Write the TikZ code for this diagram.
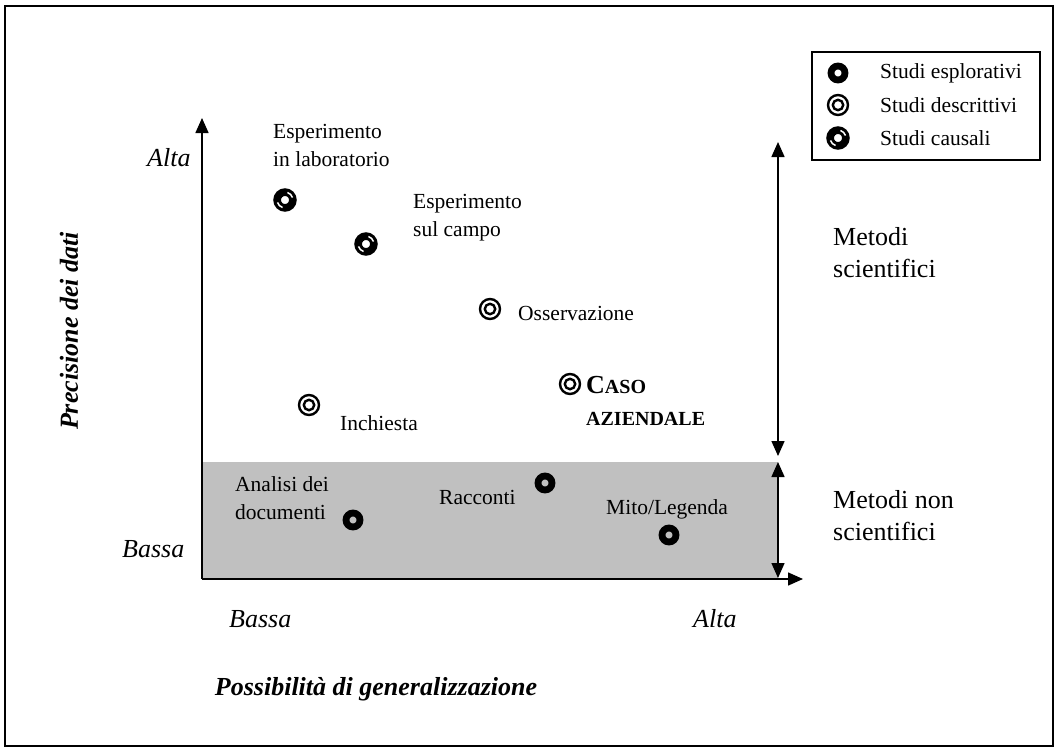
\documentclass[tikz,border=0pt]{standalone}
\usepackage{fontspec}
\setmainfont{Liberation Serif}
\usetikzlibrary{arrows.meta}
\definecolor{bandgray}{RGB}{192,192,192}
\begin{document}
\begin{tikzpicture}[x=1pt,y=-1pt,
  lbl/.style={font=\fontsize{21.5}{28}\selectfont, align=left, inner sep=0pt, anchor=west},
  axlbl/.style={font=\fontsize{26}{32}\selectfont\itshape, inner sep=0pt, anchor=west},
  meth/.style={font=\fontsize{26}{32}\selectfont, align=left, inner sep=0pt, anchor=west},
  tip/.style={-{Triangle[length=15pt,width=13pt]}},
  dtip/.style={{Triangle[length=15pt,width=13pt]}-{Triangle[length=15pt,width=13pt]}},
  explo/.pic={\draw[line width=6.8pt] (0,0) circle (7.0);},
  descr/.pic={\draw[line width=2.4pt] (0,0) circle (10) (0,0) circle (5.2);},
  causal/.pic={
    \draw[line width=7.6pt] (0,0) circle (7.9);
    \draw[white, line width=1.5pt] (-72:7.9) arc[start angle=-72, end angle=-18, radius=7.9];
    \draw[white, line width=1.5pt] (108:7.9) arc[start angle=108, end angle=162, radius=7.9];
  }]
\useasboundingbox (0,0) rectangle (1059,752);

% outer frame
\draw[line width=1.6pt] (5,6) rectangle (1053,746);

% band of the non-scientific methods
\fill[bandgray] (202,462) rectangle (778,578);

% axes
\coordinate (O) at (202,579);
\coordinate (ytop) at (202,118);
\coordinate (xend) at (803,579);
\draw[line width=1.5pt, tip] (O) -- (ytop);
\draw[line width=1.5pt, tip] (O) -- (xend);

% ranges on the right
\coordinate (r1) at (778,142);
\coordinate (r2) at (778,456);
\coordinate (r3) at (778,462);
\coordinate (r4) at (778,578);
\draw[line width=1.5pt, dtip] (r1) -- (r2);
\draw[line width=1.5pt, dtip] (r3) -- (r4);

% axis labels
\node[axlbl] (yhi) at (147,158) {Alta};
\node[axlbl] (ylo) at (122,549) {Bassa};
\node[axlbl] (xlo) at (229,619) {Bassa};
\node[axlbl] (xhi) at (693,619) {Alta};
\node[font=\fontsize{26}{32}\selectfont\bfseries\itshape, inner sep=0pt] (xtitle) at (376,689) {Possibilità di generalizzazione};
\node[font=\fontsize{26}{32}\selectfont\bfseries\itshape, inner sep=0pt, rotate=90] (ytitle) at (69,331) {Precisione dei dati};

% method ranges
\node[meth] (sci) at (833,253) {Metodi\\scientifici};
\node[meth] (nonsci) at (833,516) {Metodi non\\scientifici};

% studies
\pic (lab) at (285,200) {causal};
\pic (campo) at (366,244) {causal};
\pic (oss) at (490,309) {descr};
\pic (caso) at (570,384) {descr};
\pic (inch) at (309,405) {descr};
\pic (doc) at (353,520) {explo};
\pic (racc) at (545,483) {explo};
\pic (mito) at (669,535) {explo};

\node[lbl] (tlab) at (273,145) {Esperimento\\in laboratorio};
\node[lbl] (tcampo) at (413,218) {Esperimento\\sul campo};
\node[lbl] (toss) at (518,313) {Osservazione};
\node[lbl, font=\fontsize{26}{32}\selectfont\bfseries] (tcaso) at (586,401)
  {C{\fontsize{20}{32}\selectfont ASO}\\{\fontsize{20}{32}\selectfont AZIENDALE}};
\node[lbl] (tinch) at (340,423) {Inchiesta};
\node[lbl] (tdoc) at (235,498) {Analisi dei\\documenti};
\node[lbl] (tracc) at (439,497) {Racconti};
\node[lbl] (tmito) at (606,509) {Mito/Legenda};

% legend
\draw[line width=1.5pt] (812,52) rectangle (1040,160);
\pic (lgA) at (838,73) {explo};
\pic (lgB) at (838,105) {descr};
\pic (lgC) at (838,138) {causal};
\node[lbl] (lgtA) at (880,73) {Studi esplorativi};
\node[lbl] (lgtB) at (880,105) {Studi descrittivi};
\node[lbl] (lgtC) at (880,138) {Studi causali};
\end{tikzpicture}
\end{document}
